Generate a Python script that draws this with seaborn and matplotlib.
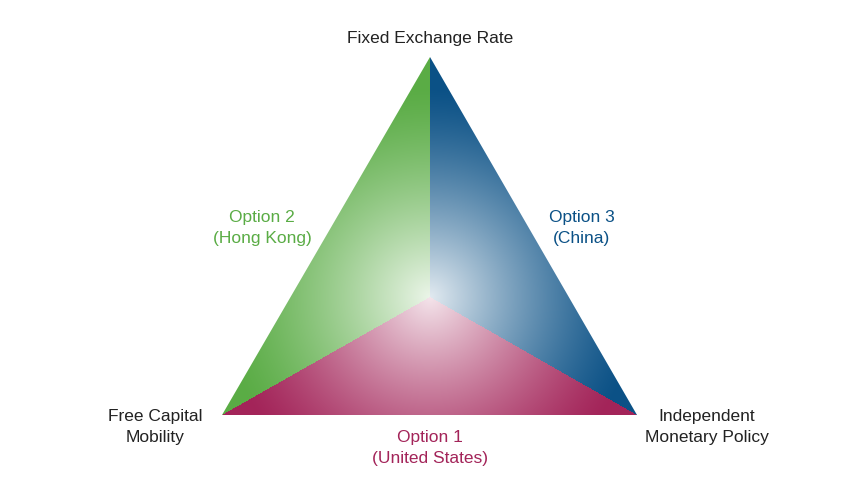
import numpy as np
import matplotlib
matplotlib.use("Agg")
import matplotlib.pyplot as plt
import seaborn as sns
from matplotlib.patches import Polygon
from matplotlib.colors import to_rgb

sns.set_theme(style="white")
plt.rcParams['font.family'] = ['Liberation Sans', 'DejaVu Sans']

# vertices (pixel coordinates of the diagram) and centre
vertex_names = ["top", "left", "right"]
vx = [430, 222, 637]
vy = [57, 415, 415]
center = (430, 297)
region_colors = ["#5aac45", "#0b5186", "#a32459"]  # left(green), right(blue), bottom(red)
vertex_labels = ["Fixed Exchange Rate", "Free Capital\nMobility", "Independent\nMonetary Policy"]
option_labels = ["Option 2\n(Hong Kong)", "Option 3\n(China)", "Option 1\n(United States)"]
option_pos = [(262, 228), (582, 228), (430, 448)]

fig = plt.figure(figsize=(8.64, 4.96), dpi=100)
ax = fig.add_axes([0, 0, 1, 1])
ax.set_xlim(0, 864)
ax.set_ylim(496, 0)
ax.axis("off")

X, Y = np.meshgrid(np.arange(0, 864) + 0.5, np.arange(0, 496) + 0.5)
cx, cy = center
ang = np.arctan2(Y - cy, X - cx)
a_top = np.arctan2(vy[0] - cy, vx[0] - cx)
a_left = np.arctan2(vy[1] - cy, vx[1] - cx)
a_right = np.arctan2(vy[2] - cy, vx[2] - cx)
# regions
blue = (ang >= a_top) & (ang < a_right)
red = (ang >= a_right) & (ang < a_left)
green = ~(blue | red)
img = np.ones((496, 864, 3))
d = np.hypot(X - cx, Y - cy)
t = np.clip(d / 210.0, 0, 1)
w = 0.88 * (1 - t) ** 1.3
for mask, col in [(green, region_colors[0]), (blue, region_colors[1]), (red, region_colors[2])]:
    c = np.array(to_rgb(col))
    blend = c[None, :] + (1 - c[None, :]) * w[mask][:, None]
    img[mask] = blend
im = ax.imshow(img, extent=(0, 864, 496, 0), interpolation="bilinear", zorder=1)
tri = Polygon(list(zip(vx, vy)), closed=True, transform=ax.transData, facecolor="none", edgecolor="none")
ax.add_patch(tri)
im.set_clip_path(tri)

fs = 12.5
ax.text(430, 38, vertex_labels[0], ha="center", va="center", fontsize=fs, color="#222222")
ax.text(155, 427, vertex_labels[1], ha="center", va="center", fontsize=fs, color="#222222", linespacing=1.45)
ax.text(707, 427, vertex_labels[2], ha="center", va="center", fontsize=fs, color="#222222", linespacing=1.45)
for lab, (px, py), col in zip(option_labels, option_pos, region_colors):
    ax.text(px, py, lab, ha="center", va="center", fontsize=fs, color=col, linespacing=1.45)

fig.savefig("out.png", dpi=100)
